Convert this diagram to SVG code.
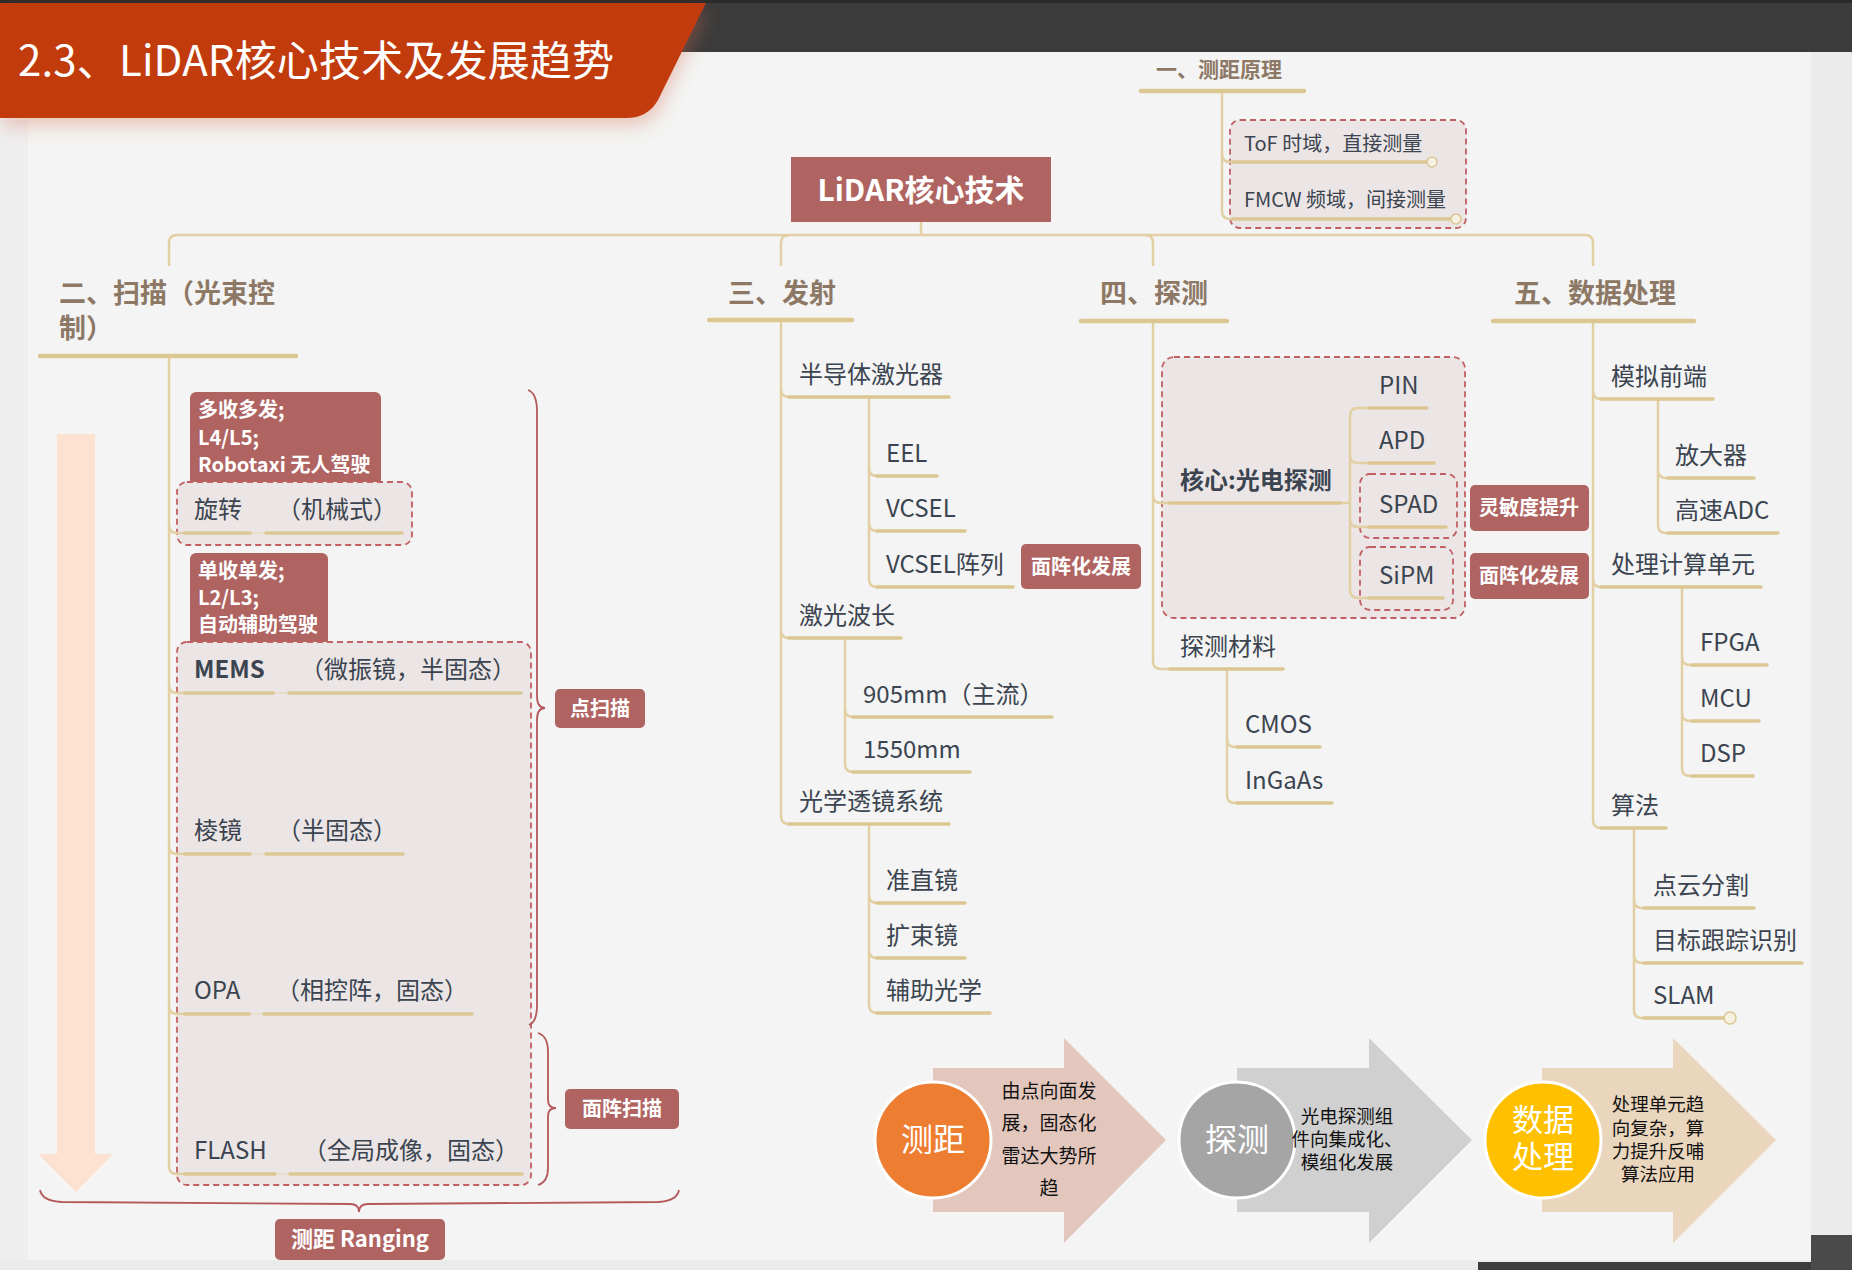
<svg xmlns="http://www.w3.org/2000/svg" width="1852" height="1270" viewBox="0 0 1852 1270">
<defs>
<style>
text { font-family: "Noto Sans CJK SC", "Noto Sans", sans-serif; }
.c { fill:none; stroke:#e2cfa3; stroke-width:2.5; }
.u { fill:none; stroke:#dcc692; stroke-width:3.5; stroke-linecap:round; }
.uh { stroke-width:4.5; }
.th { fill:none; stroke:#e8dcc0; stroke-width:1.5; }
.n { font-size:24px; fill:#3b4450; }
.b { font-weight:bold; }
.h { font-size:27px; font-weight:bold; fill:#8d7866; }
.db { fill:#ebe6e5; stroke:#c25f63; stroke-width:1.8; stroke-dasharray:6 4; }
.tag { fill:#b06462; }
.tt { font-size:20px; font-weight:bold; fill:#ffffff; }
.ttc { font-size:20px; font-weight:bold; fill:#ffffff; text-anchor:middle; }
.br { fill:none; stroke:#b4585a; stroke-width:1.8; }
.at { font-size:19px; fill:#111111; text-anchor:middle; }
.ct { font-size:32px; fill:#ffffff; text-anchor:middle; }
.dot { fill:#f6f1e2; stroke:#dcc692; stroke-width:1.5; }
</style>
<filter id="sh" x="-10%" y="-20%" width="130%" height="160%">
<feDropShadow dx="2" dy="8" stdDeviation="9" flood-color="#d46a50" flood-opacity="0.35"/>
</filter>
</defs>

<!-- background -->
<rect x="0" y="0" width="1852" height="1270" fill="#f3f4f3"/>
<rect x="0" y="120" width="28" height="1140" fill="#eeeeee"/>
<rect x="0" y="0" width="1852" height="52" fill="#3b3b3b"/>
<rect x="0" y="0" width="1852" height="3" fill="#2a2a2a"/>
<rect x="1811" y="52" width="41" height="1218" fill="#ebebeb"/>
<rect x="0" y="1260" width="1852" height="10" fill="#ebebeb"/>
<rect x="1478" y="1262" width="374" height="8" fill="#3b3b3b"/>
<rect x="1811" y="1235" width="41" height="35" fill="#4a4a4a"/>

<!-- title banner -->
<g id="title">
<path d="M0,3 H706 L658,100 Q648,118 626,118 H0 Z" fill="#c23a10" filter="url(#sh)"/>
<text x="18" y="76" font-size="42" fill="#ffffff" textLength="596" lengthAdjust="spacing">2.3、LiDAR核心技术及发展趋势</text>
</g>

<!-- left decorative arrow -->
<g id="progress-arrow">
<rect x="57" y="434" width="38" height="720" fill="#fde2d2"/>
<polygon points="38,1154 113,1154 76,1192" fill="#fde2d2"/>
</g>

<!-- group boxes -->
<g id="box-ranging"><rect class="db" x="1230" y="120" width="236" height="108" rx="10"/></g>
<g id="box-rotate"><rect class="tag" x="190" y="392" width="191" height="95" rx="6"/>
<rect class="db" x="177" y="482" width="235" height="63" rx="10"/></g>
<g id="box-solid"><rect class="tag" x="190" y="553" width="138" height="95" rx="6"/>
<rect class="db" x="177" y="642" width="354" height="543" rx="10"/></g>
<g id="box-detect"><rect class="db" x="1162" y="357" width="303" height="261" rx="12"/>
<rect class="db" x="1360" y="474" width="97" height="64" rx="10"/>
<rect class="db" x="1360" y="547" width="93" height="63" rx="10"/></g>

<!-- connectors -->
<g id="connectors">
<path class="c" d="M921,222 V235"/>
<path class="c" d="M177,235 Q169,235 169,243 V266"/>
<path class="c" d="M177,235 H1585 Q1593,235 1593,243 V266"/>
<path class="c" d="M789,235 Q781,235 781,243 V266"/>
<path class="c" d="M1145,235 Q1153,235 1153,243 V266"/>
<path class="c" d="M1222,91 V211 Q1222,219 1230,219 H1233"/>
<path class="c" d="M1222,154 Q1222,162 1230,162 H1233"/>
<path class="c" d="M169,356 V1166 Q169,1174 177,1174 H185"/>
<path class="c" d="M169,525 Q169,533 177,533 H185"/>
<path class="c" d="M169,685 Q169,693 177,693 H185"/>
<path class="c" d="M169,846 Q169,854 177,854 H185"/>
<path class="c" d="M169,1006 Q169,1014 177,1014 H185"/>
<path class="th" d="M250,533 H266 M273,693 H289 M250,854 H266 M249,1014 H264 M275,1174 H290"/>
<path class="c" d="M781,320 V816 Q781,824 789,824"/>
<path class="c" d="M781,389 Q781,397 789,397"/>
<path class="c" d="M781,630 Q781,638 789,638"/>
<path class="c" d="M869,397 V579 Q869,587 877,587"/>
<path class="c" d="M869,468 Q869,476 877,476"/>
<path class="c" d="M869,523 Q869,531 877,531"/>
<path class="c" d="M845,638 V764 Q845,772 853,772"/>
<path class="c" d="M845,709 Q845,717 853,717"/>
<path class="c" d="M869,824 V1005 Q869,1013 877,1013"/>
<path class="c" d="M869,895 Q869,903 877,903"/>
<path class="c" d="M869,950 Q869,958 877,958"/>
<path class="c" d="M1153,321 V661 Q1153,669 1161,669 H1170"/>
<path class="c" d="M1153,495 Q1153,503 1161,503 H1170"/>
<path class="c" d="M1340,503 H1350"/>
<path class="c" d="M1369,408 H1358 Q1350,408 1350,416 V590 Q1350,598 1358,598 H1369"/>
<path class="c" d="M1350,455 Q1350,463 1358,463 H1369"/>
<path class="c" d="M1350,519 Q1350,527 1358,527 H1369"/>
<path class="c" d="M1227,669 V795 Q1227,803 1235,803 H1237"/>
<path class="c" d="M1227,739 Q1227,747 1235,747 H1237"/>
<path class="c" d="M1593,321 V820 Q1593,828 1601,828"/>
<path class="c" d="M1593,391 Q1593,399 1601,399"/>
<path class="c" d="M1593,579 Q1593,587 1601,587"/>
<path class="c" d="M1658,399 V525 Q1658,533 1666,533 H1668"/>
<path class="c" d="M1658,470 Q1658,478 1666,478 H1668"/>
<path class="c" d="M1682,587 V768 Q1682,776 1690,776 H1692"/>
<path class="c" d="M1682,657 Q1682,665 1690,665 H1692"/>
<path class="c" d="M1682,713 Q1682,721 1690,721 H1692"/>
<path class="c" d="M1634,828 V1010 Q1634,1018 1642,1018 H1644"/>
<path class="c" d="M1634,900 Q1634,908 1642,908 H1644"/>
<path class="c" d="M1634,955 Q1634,963 1642,963 H1644"/>
<path class="br" d="M528,390 Q537,393 537,412 V696 Q537,708 545,708 Q537,708 537,720 V1005 Q537,1022 529,1025"/>
<path class="br" d="M538,1033 Q548,1036 548,1052 V1100 Q548,1108 556,1108 Q548,1108 548,1116 V1168 Q548,1182 538,1185"/>
<path class="br" d="M40,1190 Q42,1201 62,1202 L350,1204 Q359,1204 359,1212 Q359,1204 368,1204 L658,1202 Q677,1201 679,1190"/>
</g>

<!-- root -->
<g id="root">
<rect x="791" y="157" width="260" height="65" fill="#b06462"/>
<text x="921" y="201" font-size="30" font-weight="bold" fill="#ffffff" text-anchor="middle">LiDAR核心技术</text>
</g>

<g id="h1"><text class="h" x="1156" y="77" style="font-size:21px">一、测距原理</text><path class="u uh" d="M1141,91 H1304"/></g>
<g id="tof"><text class="n" x="1244" y="151" style="font-size:20px">ToF 时域，直接测量</text><path class="u" d="M1233,162 H1427"/><circle class="dot" cx="1432" cy="162" r="5"/></g>
<g id="fmcw"><text class="n" x="1244" y="207" style="font-size:20px">FMCW 频域，间接测量</text><path class="u" d="M1233,219 H1451"/><circle class="dot" cx="1456" cy="219" r="5"/></g>

<g id="h2"><text class="h" x="59" y="303">二、扫描（光束控</text><text class="h" x="59" y="338">制）</text><path class="u uh" d="M40,356 H296"/></g>
<g id="h3"><text class="h" x="728" y="303">三、发射</text><path class="u uh" d="M709,320 H852"/></g>
<g id="h4"><text class="h" x="1100" y="303">四、探测</text><path class="u uh" d="M1081,321 H1227"/></g>
<g id="h5"><text class="h" x="1514" y="303">五、数据处理</text><path class="u uh" d="M1493,321 H1694"/></g>

<g id="tag-multi"><text class="tt" x="198" y="417">多收多发;</text><text class="tt" x="198" y="445">L4/L5;</text><text class="tt" x="198" y="472">Robotaxi 无人驾驶</text></g>
<g id="rotate"><text class="n" x="194" y="518">旋转</text><path class="u" d="M185,533 H250"/></g>
<g id="rotate-d"><text class="n" x="277" y="518">（机械式）</text><path class="u" d="M266,533 H402"/></g>
<g id="tag-single"><text class="tt" x="198" y="578">单收单发;</text><text class="tt" x="198" y="605">L2/L3;</text><text class="tt" x="198" y="632">自动辅助驾驶</text></g>
<g id="mems"><text class="n b" x="194" y="678">MEMS</text><path class="u" d="M185,693 H273"/></g>
<g id="mems-d"><text class="n" x="300" y="678">（微振镜，半固态）</text><path class="u" d="M289,693 H521"/></g>
<g id="prism"><text class="n" x="194" y="839">棱镜</text><path class="u" d="M185,854 H250"/></g>
<g id="prism-d"><text class="n" x="277" y="839">（半固态）</text><path class="u" d="M266,854 H403"/></g>
<g id="opa"><text class="n" x="194" y="999">OPA</text><path class="u" d="M185,1014 H249"/></g>
<g id="opa-d"><text class="n" x="276" y="999">（相控阵，固态）</text><path class="u" d="M264,1014 H472"/></g>
<g id="flash"><text class="n" x="194" y="1159">FLASH</text><path class="u" d="M185,1174 H275"/></g>
<g id="flash-d"><text class="n" x="303" y="1159">（全局成像，固态）</text><path class="u" d="M290,1174 H522"/></g>
<g id="tag-point"><rect class="tag" x="555" y="689" width="90" height="39" rx="5"/><text class="ttc" x="600" y="716">点扫描</text></g>
<g id="tag-area"><rect class="tag" x="565" y="1089" width="114" height="40" rx="5"/><text class="ttc" x="622" y="1116">面阵扫描</text></g>
<g id="tag-ranging"><rect class="tag" x="275" y="1219" width="170" height="41" rx="5"/><text class="ttc" x="360" y="1247" style="font-size:22px">测距 Ranging</text></g>

<g id="semi"><text class="n" x="799" y="383">半导体激光器</text><path class="u" d="M789,397 H949"/></g>
<g id="eel"><text class="n" x="886" y="462">EEL</text><path class="u" d="M877,476 H937"/></g>
<g id="vcsel"><text class="n" x="886" y="517">VCSEL</text><path class="u" d="M877,531 H965"/></g>
<g id="vcsel-a"><text class="n" x="886" y="573">VCSEL阵列</text><path class="u" d="M877,587 H1013"/></g>
<g id="tag-vcsel"><rect class="tag" x="1021" y="544" width="120" height="45" rx="5"/><text class="ttc" x="1081" y="574">面阵化发展</text></g>
<g id="wave"><text class="n" x="799" y="624">激光波长</text><path class="u" d="M789,638 H901"/></g>
<g id="w905"><text class="n" x="863" y="703">905mm（主流）</text><path class="u" d="M853,717 H1052"/></g>
<g id="w1550"><text class="n" x="863" y="758">1550mm</text><path class="u" d="M853,772 H970"/></g>
<g id="optics"><text class="n" x="799" y="810">光学透镜系统</text><path class="u" d="M789,824 H949"/></g>
<g id="collim"><text class="n" x="886" y="889">准直镜</text><path class="u" d="M877,903 H965"/></g>
<g id="expand"><text class="n" x="886" y="944">扩束镜</text><path class="u" d="M877,958 H965"/></g>
<g id="aux"><text class="n" x="886" y="999">辅助光学</text><path class="u" d="M877,1013 H990"/></g>

<g id="core"><text class="n b" x="1180" y="489">核心:光电探测</text><path class="u" d="M1170,503 H1340"/></g>
<g id="pin"><text class="n" x="1379" y="394">PIN</text><path class="u" d="M1369,408 H1427"/></g>
<g id="apd"><text class="n" x="1379" y="449">APD</text><path class="u" d="M1369,463 H1434"/></g>
<g id="spad"><text class="n" x="1379" y="513">SPAD</text><path class="u" d="M1369,527 H1446"/></g>
<g id="sipm"><text class="n" x="1379" y="584">SiPM</text><path class="u" d="M1369,598 H1443"/></g>
<g id="tag-spad"><rect class="tag" x="1470" y="485" width="119" height="46" rx="5"/><text class="ttc" x="1529" y="515">灵敏度提升</text></g>
<g id="tag-sipm"><rect class="tag" x="1470" y="553" width="119" height="46" rx="5"/><text class="ttc" x="1529" y="583">面阵化发展</text></g>
<g id="material"><text class="n" x="1180" y="655">探测材料</text><path class="u" d="M1170,669 H1283"/></g>
<g id="cmos"><text class="n" x="1245" y="733">CMOS</text><path class="u" d="M1237,747 H1320"/></g>
<g id="ingaas"><text class="n" x="1245" y="789">InGaAs</text><path class="u" d="M1237,803 H1332"/></g>

<g id="afe"><text class="n" x="1611" y="385">模拟前端</text><path class="u" d="M1601,399 H1713"/></g>
<g id="amp"><text class="n" x="1675" y="464">放大器</text><path class="u" d="M1668,478 H1754"/></g>
<g id="adc"><text class="n" x="1675" y="519">高速ADC</text><path class="u" d="M1668,533 H1778"/></g>
<g id="pu"><text class="n" x="1611" y="573">处理计算单元</text><path class="u" d="M1601,587 H1761"/></g>
<g id="fpga"><text class="n" x="1700" y="651">FPGA</text><path class="u" d="M1692,665 H1767"/></g>
<g id="mcu"><text class="n" x="1700" y="707">MCU</text><path class="u" d="M1692,721 H1759"/></g>
<g id="dsp"><text class="n" x="1700" y="762">DSP</text><path class="u" d="M1692,776 H1753"/></g>
<g id="algo"><text class="n" x="1611" y="814">算法</text><path class="u" d="M1601,828 H1666"/></g>
<g id="seg"><text class="n" x="1653" y="894">点云分割</text><path class="u" d="M1644,908 H1754"/></g>
<g id="track"><text class="n" x="1653" y="949">目标跟踪识别</text><path class="u" d="M1644,963 H1802"/></g>
<g id="slam"><text class="n" x="1653" y="1004">SLAM</text><path class="u" d="M1644,1018 H1724"/><circle class="dot" cx="1730" cy="1018" r="6"/></g>

<g id="trend-ranging">
<polygon points="933,1068 1064,1068 1064,1038 1166,1140 1064,1243 1064,1212 933,1212" fill="#e3c6bc"/>
<circle cx="933" cy="1140" r="58" fill="#ed7d31" stroke="#ffffff" stroke-width="3"/>
<text class="ct" x="933" y="1151">测距</text>
<text class="at" x="1049" y="1098">由点向面发</text>
<text class="at" x="1049" y="1130">展，固态化</text>
<text class="at" x="1049" y="1163">雷达大势所</text>
<text class="at" x="1049" y="1195">趋</text>
</g>
<g id="trend-detect">
<polygon points="1237,1068 1369,1068 1369,1038 1472,1140 1369,1243 1369,1212 1237,1212" fill="#d0d0d0"/>
<circle cx="1237" cy="1140" r="58" fill="#a5a5a5" stroke="#ffffff" stroke-width="3"/>
<text class="ct" x="1237" y="1151">探测</text>
<text class="at" x="1347" y="1123" style="font-size:18.5px">光电探测组</text>
<text class="at" x="1347" y="1146" style="font-size:18.5px">件向集成化、</text>
<text class="at" x="1347" y="1169" style="font-size:18.5px">模组化发展</text>
</g>
<g id="trend-data">
<polygon points="1542,1068 1673,1068 1673,1038 1776,1140 1673,1243 1673,1212 1542,1212" fill="#e9d6bc"/>
<circle cx="1543" cy="1140" r="58" fill="#ffc000" stroke="#ffffff" stroke-width="3"/>
<text class="ct" x="1543" y="1131" style="font-size:31px">数据</text>
<text class="ct" x="1543" y="1168" style="font-size:31px">处理</text>
<text class="at" x="1658" y="1111" style="font-size:18.5px">处理单元趋</text>
<text class="at" x="1658" y="1135" style="font-size:18.5px">向复杂，算</text>
<text class="at" x="1658" y="1158" style="font-size:18.5px">力提升反哺</text>
<text class="at" x="1658" y="1181" style="font-size:18.5px">算法应用</text>
</g>
</svg>
